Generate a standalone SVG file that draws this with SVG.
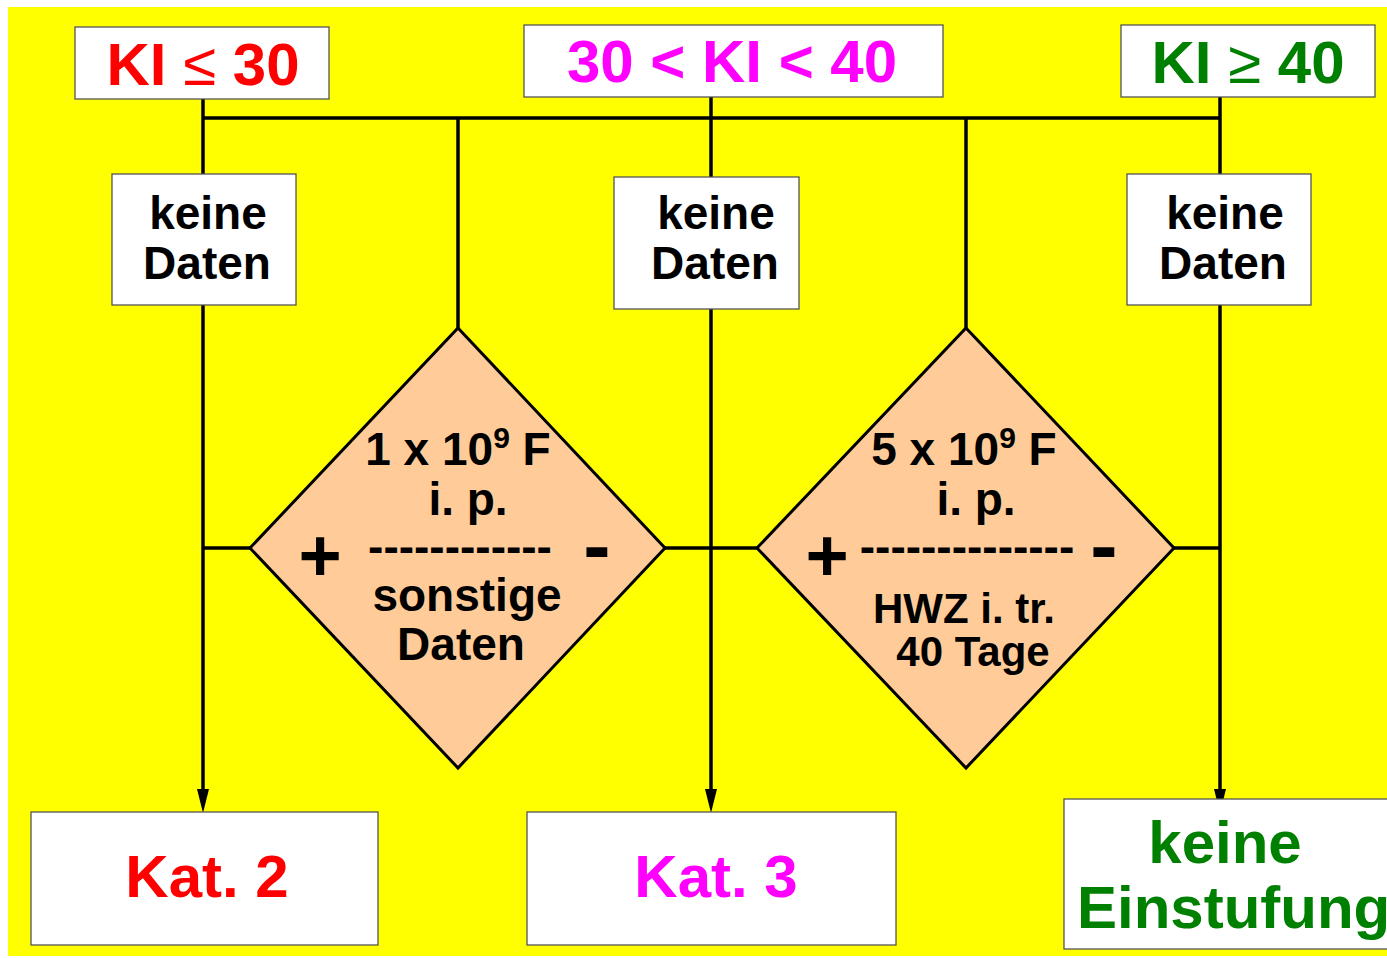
<svg xmlns="http://www.w3.org/2000/svg" width="1387" height="958" viewBox="0 0 1387 958">
<style>
.t{font-family:"Liberation Sans",Arial,sans-serif;font-weight:bold;text-anchor:middle}
.box{fill:#fff;stroke:#555;stroke-width:1.3}
.dia{fill:#FFCC99;stroke:#000;stroke-width:3}
.ln{fill:none;stroke:#000;stroke-width:3.5}
.k{fill:#000;font-size:46px}
.sym{font-weight:normal}
</style>
<defs>
<marker id="ah" markerUnits="userSpaceOnUse" markerWidth="26" markerHeight="14" refX="5" refY="6" orient="auto" viewBox="0 0 26 12">
<path d="M0,0 L24,6 L0,12 Z" fill="#000"/>
</marker>
</defs>
<rect x="8" y="7" width="1390" height="949" fill="#FFFF00"/>
<g id="connectors">
<path class="ln" d="M203,99 V174"/>
<path class="ln" d="M203,118 H1220"/>
<path class="ln" d="M458,118 V328"/>
<path class="ln" d="M711,97 V177"/>
<path class="ln" d="M966,118 V328"/>
<path class="ln" d="M1220,97 V174"/>
<path class="ln" d="M203,548 H250"/>
<path class="ln" d="M665,548 H757"/>
<path class="ln" d="M1174,548 H1220"/>
<path class="ln" d="M203,305 V794" marker-end="url(#ah)"/>
<path class="ln" d="M711,309 V794" marker-end="url(#ah)"/>
<path class="ln" d="M1220,305 V794" marker-end="url(#ah)"/>
</g>
<g id="h1"><rect class="box" x="75" y="27" width="254" height="72"/>
<text class="t" x="203" y="85" font-size="60" fill="#FF0000">KI <tspan class="sym">≤</tspan> 30</text></g>
<g id="h2"><rect class="box" x="524" y="25" width="419" height="72"/>
<text class="t" x="732" y="82" font-size="60" fill="#FF00FF">30 &lt; KI &lt; 40</text></g>
<g id="h3"><rect class="box" x="1121" y="25" width="254" height="72"/>
<text class="t" x="1248" y="83" font-size="60" fill="#008000">KI <tspan class="sym">≥</tspan> 40</text></g>
<g id="kd1"><rect class="box" x="112" y="174" width="184" height="131"/>
<text class="t k" x="208" y="229">keine</text><text class="t k" x="207" y="279">Daten</text></g>
<g id="kd2"><rect class="box" x="614" y="177" width="185" height="132"/>
<text class="t k" x="716" y="229">keine</text><text class="t k" x="715" y="279">Daten</text></g>
<g id="kd3"><rect class="box" x="1127" y="174" width="184" height="131"/>
<text class="t k" x="1225" y="229">keine</text><text class="t k" x="1223" y="279">Daten</text></g>
<g id="d1"><polygon class="dia" points="458,328 665,548 458,768 250,548"/>
<text class="t k" x="458" y="465">1 x 10<tspan font-size="30" dy="-17">9</tspan><tspan dy="17"> F</tspan></text>
<text class="t k" x="468" y="515">i. p.</text>
<text class="t" x="460" y="562" font-size="46" fill="#000">------------</text>
<text class="t" x="320" y="581" font-size="74" fill="#000">+</text>
<text class="t" x="597" y="573" font-size="82" fill="#000">-</text>
<text class="t k" x="467" y="611">sonstige</text>
<text class="t k" x="461" y="660">Daten</text></g>
<g id="d2"><polygon class="dia" points="966,328 1174,548 966,768 757,548"/>
<text class="t k" x="964" y="465">5 x 10<tspan font-size="30" dy="-17">9</tspan><tspan dy="17"> F</tspan></text>
<text class="t k" x="976" y="515">i. p.</text>
<text class="t" x="967" y="562" font-size="46" fill="#000">--------------</text>
<text class="t" x="827" y="581" font-size="74" fill="#000">+</text>
<text class="t" x="1104" y="573" font-size="82" fill="#000">-</text>
<text class="t" x="964" y="623" font-size="42" fill="#000">HWZ i. tr.</text>
<text class="t" x="973" y="666" font-size="42" fill="#000">40 Tage</text></g>
<g id="k2"><rect class="box" x="31" y="812" width="347" height="133"/>
<text class="t" x="207" y="897" font-size="60" fill="#FF0000">Kat. 2</text></g>
<g id="k3"><rect class="box" x="527" y="812" width="369" height="133"/>
<text class="t" x="716" y="897" font-size="60" fill="#FF00FF">Kat. 3</text></g>
<g id="ke"><rect class="box" x="1064" y="799" width="340" height="150"/>
<text class="t" x="1225" y="863" font-size="60" fill="#008000">keine</text>
<text x="1077" y="928" font-size="60" fill="#008000" font-family="Liberation Sans, Arial, sans-serif" font-weight="bold">Einstufung</text></g>
</svg>
